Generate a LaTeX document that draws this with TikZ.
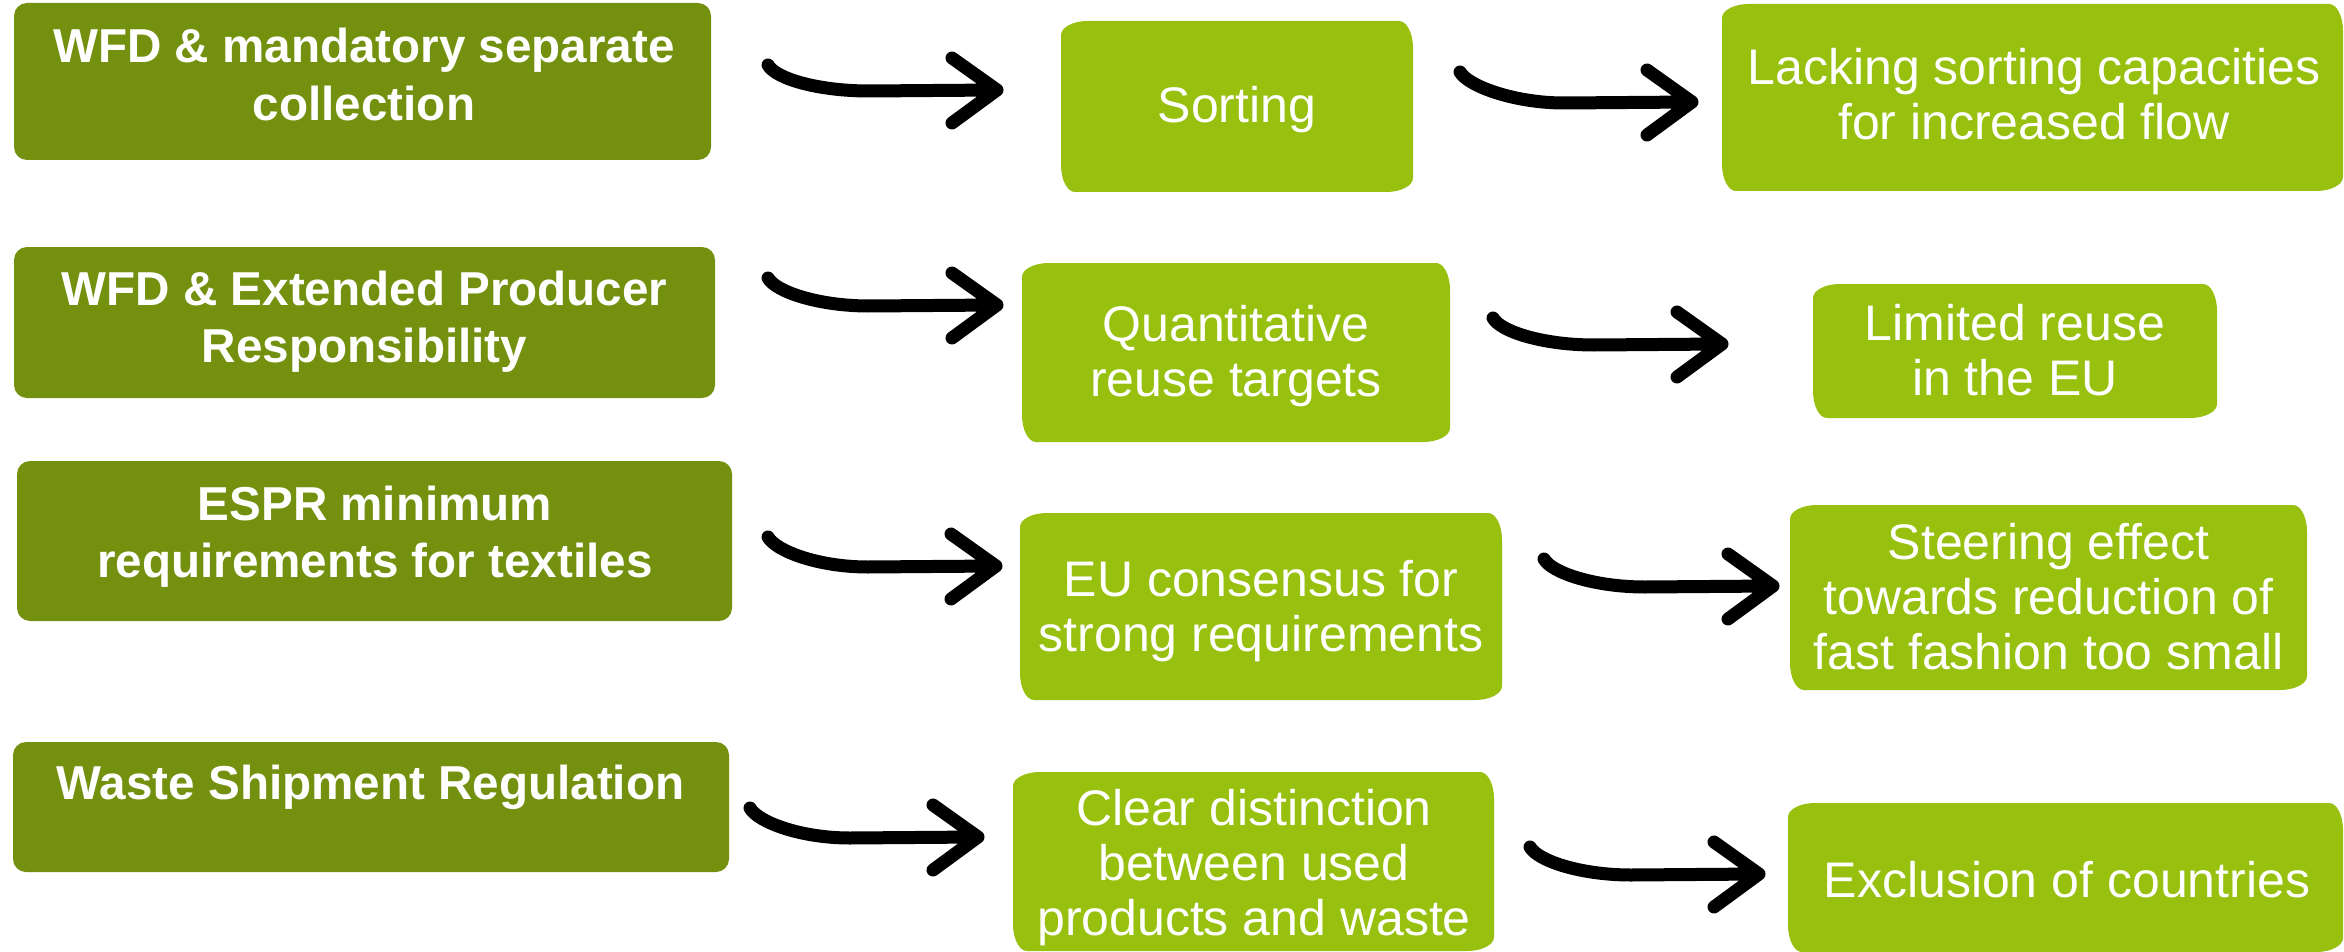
\documentclass[tikz,border=0pt]{standalone}
\usepackage{fontspec}
\setmainfont{Liberation Sans}
\usetikzlibrary{calc}

\definecolor{olive}{RGB}{115,144,14}
\definecolor{lime}{RGB}{151,192,15}

% multi-line label whose baseline is the first line
\newcommand{\lns}[1]{\begin{tabular}[t]{@{}c@{}}#1\end{tabular}}

\tikzset{
  darkbox/.style={fill=olive, draw=none, inner sep=0pt, rounded corners=13pt},
  lightbox/.style={fill=lime, draw=none, inner sep=0pt,
    ellcorners/.code={\pgfsetcornersarced{\pgfpoint{27pt}{14pt}}}, ellcorners},
  darktxt/.style={text=white, inner sep=0pt, anchor=base,
    font=\fontsize{47.6}{57.5}\selectfont\bfseries},
  lighttxt/.style={text=white, inner sep=0pt, anchor=base,
    font=\fontsize{50}{55}\selectfont},
  hookline/.style={draw=black, line width=13pt, line cap=round, line join=round}
}

% hooked arrow: dips from its start, runs flat and ends in an open head
\newcommand{\hookarrow}[2]{%
  \draw[hookline] (#1) .. controls +(8,14) and +(-50,0) .. ($(#2)+(-128,1)$)
    -- (#2) ++(-45,-32) -- (#2) -- ++(-45,33);}

\begin{document}
\begin{tikzpicture}[x=1pt,y=-1pt]
\useasboundingbox (0,0) rectangle (2344,952);

% instruments (left column)
\node[darkbox, minimum width=697pt, minimum height=157pt] (L1) at (362.5,81.5) {};
\node[darkbox, minimum width=701pt, minimum height=151pt] (L2) at (364.5,322.5) {};
\node[darkbox, minimum width=715pt, minimum height=160pt] (L3) at (374.5,541) {};
\node[darkbox, minimum width=716pt, minimum height=130pt] (L4) at (371,807) {};

% intended effects (middle column)
\node[lightbox, minimum width=352pt, minimum height=171pt] (M1) at (1237,106.5) {};
\node[lightbox, minimum width=428pt, minimum height=179pt] (M2) at (1236,352.5) {};
\node[lightbox, minimum width=482pt, minimum height=187pt] (M3) at (1261,606.5) {};
\node[lightbox, minimum width=481pt, minimum height=179pt] (M4) at (1253.5,861.5) {};

% outcomes (right column)
\node[lightbox, minimum width=621pt, minimum height=187pt] (R1) at (2032.5,97.5) {};
\node[lightbox, minimum width=404pt, minimum height=134pt] (R2) at (2015,351) {};
\node[lightbox, minimum width=517pt, minimum height=185pt] (R3) at (2048.5,597.5) {};
\node[lightbox, minimum width=555pt, minimum height=149pt] (R4) at (2065.5,877.5) {};

% labels
\node[darktxt] (tL1) at (364,63) {\lns{WFD \& mandatory separate\\collection}};
\node[darktxt] (tL2) at (364.5,305) {\lns{WFD \& Extended Producer\\Responsibility}};
\node[darktxt] (tL3) at (375,520) {\lns{ESPR minimum\\requirements for textiles}};
\node[darktxt] (tL4) at (370.5,799) {\lns{Waste Shipment Regulation}};

\node[lighttxt] (tM1) at (1237,123) {\lns{Sorting}};
\node[lighttxt] (tM2) at (1236,341) {\lns{Quantitative\\reuse targets}};
\node[lighttxt] (tM3) at (1261,596) {\lns{EU consensus for\\strong requirements}};
\node[lighttxt] (tM4) at (1254,825) {\lns{Clear distinction\\between used\\products and waste}};

\node[lighttxt] (tR1) at (2034,85) {\lns{Lacking sorting capacities\\for increased flow}};
\node[lighttxt] (tR2) at (2015,340) {\lns{Limited reuse\\in the EU}};
\node[lighttxt] (tR3) at (2048.5,559) {\lns{Steering effect\\towards reduction of\\fast fashion too small}};
\node[lighttxt] (tR4) at (2067,897) {\lns{Exclusion of countries}};

% arrow ends
\coordinate (a1s) at (768,65);   \coordinate (a1t) at (997,90);
\coordinate (a2s) at (768,278);  \coordinate (a2t) at (997,305);
\coordinate (a3s) at (768,537);  \coordinate (a3t) at (996,566);
\coordinate (a4s) at (750,808);  \coordinate (a4t) at (978,837);
\coordinate (b1s) at (1460,72);  \coordinate (b1t) at (1692,102);
\coordinate (b2s) at (1493,318); \coordinate (b2t) at (1722,344);
\coordinate (b3s) at (1544,559); \coordinate (b3t) at (1773,586);
\coordinate (b4s) at (1530,847); \coordinate (b4t) at (1759,874);

\hookarrow{a1s}{a1t}
\hookarrow{a2s}{a2t}
\hookarrow{a3s}{a3t}
\hookarrow{a4s}{a4t}
\hookarrow{b1s}{b1t}
\hookarrow{b2s}{b2t}
\hookarrow{b3s}{b3t}
\hookarrow{b4s}{b4t}
\end{tikzpicture}
\end{document}
